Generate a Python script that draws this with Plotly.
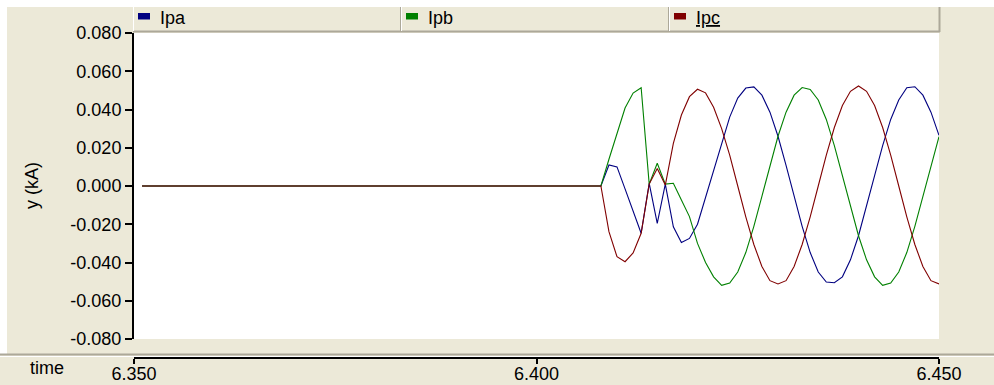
import plotly.graph_objects as go

# Phase currents (kA) sampled every 1 ms; flat at zero until the event at 6.408 s
time_s = [6.351,
          6.408, 6.409, 6.410, 6.411, 6.412, 6.413, 6.414, 6.415, 6.416, 6.417,
          6.418, 6.419, 6.420, 6.421, 6.422, 6.423, 6.424, 6.425, 6.426, 6.427,
          6.428, 6.429, 6.430, 6.431, 6.432, 6.433, 6.434, 6.435, 6.436, 6.437,
          6.438, 6.439, 6.440, 6.441, 6.442, 6.443, 6.444, 6.445, 6.446, 6.447,
          6.448, 6.449, 6.450]

ipa = [0.0,
       0.0, 0.011, 0.010, -0.0015, -0.013, -0.0247, 0.0014, -0.0195, 0.001, -0.0213,
       -0.0296, -0.0274, -0.020, -0.006, 0.009, 0.023, 0.036, 0.046, 0.0512, 0.0518,
       0.0475, 0.0386, 0.026, 0.0108, -0.0054, -0.0211, -0.0348, -0.045, -0.0502, -0.0506,
       -0.0475, -0.0386, -0.026, -0.0108, 0.0054, 0.0211, 0.0348, 0.045, 0.0514, 0.0519,
       0.0475, 0.0386, 0.0265]

ipb = [0.0,
       0.0, 0.014, 0.0277, 0.0408, 0.0486, 0.0514, 0.001, 0.0119, 0.001, 0.0014,
       -0.0073, -0.016, -0.030, -0.040, -0.0475, -0.0519, -0.0507, -0.045, -0.0348, -0.0211,
       -0.0054, 0.0108, 0.026, 0.0386, 0.0475, 0.0515, 0.0505, 0.045, 0.0348, 0.0211,
       0.0054, -0.0108, -0.026, -0.0386, -0.0475, -0.0519, -0.0507, -0.045, -0.0348, -0.0211,
       -0.0054, 0.0108, 0.0258]

ipc = [0.0,
       0.0, -0.0239, -0.037, -0.0396, -0.035, -0.0247, 0.001, 0.0092, 0.0005, 0.0223,
       0.0371, 0.0467, 0.0506, 0.0487, 0.0412, 0.0300, 0.0161, 0.0, -0.0161, -0.0306,
       -0.0421, -0.0495, -0.0512, -0.0495, -0.0421, -0.0306, -0.0161, 0.0, 0.0161, 0.0306,
       0.0421, 0.0495, 0.0523, 0.0495, 0.0421, 0.0306, 0.0161, 0.0, -0.0161, -0.0306,
       -0.0421, -0.0495, -0.0512]

series_names = ["Ipa", "Ipb", "Ipc"]
series_colors = ["#000080", "#008000", "#800000"]

y_tickvals = [0.08, 0.06, 0.04, 0.02, 0.0, -0.02, -0.04, -0.06, -0.08]
y_ticktext = ["0.080", "0.060", "0.040", "0.020", "0.000",
              "-0.020", "-0.040", "-0.060", "-0.080"]
x_tickvals = [6.35, 6.40, 6.45]
x_ticktext = ["6.350", "6.400", "6.450"]

W, H = 994, 385
L, R, T, B = 134, 939, 33, 358          # paper area in pixels
PLOT_BOTTOM = 339                        # bottom of the white plot area

BEIGE = "#ECE9D8"
GRAY = "#ACA899"
FONT = "Liberation Sans, Arial, sans-serif"


def px_x(p):
    return (p - L) / (R - L)


def px_y(p):
    return (B - p) / (B - T)


fig = go.Figure()
for vals, name, color in zip([ipa, ipb, ipc], series_names, series_colors):
    fig.add_trace(go.Scatter(x=time_s, y=vals, mode="lines", name=name,
                             line=dict(color=color, width=1.1),
                             showlegend=False))

shapes = []


def rect(x0, y0, x1, y1, fill):
    shapes.append(dict(type="rect", xref="paper", yref="paper",
                       x0=px_x(x0), x1=px_x(x1), y0=px_y(y0), y1=px_y(y1),
                       fillcolor=fill, line=dict(width=0), layer="below"))


def hline(y, x0, x1, color, width):
    shapes.append(dict(type="line", xref="paper", yref="paper",
                       x0=px_x(x0), x1=px_x(x1), y0=px_y(y), y1=px_y(y),
                       line=dict(color=color, width=width)))


def vline(x, y0, y1, color, width):
    shapes.append(dict(type="line", xref="paper", yref="paper",
                       x0=px_x(x), x1=px_x(x), y0=px_y(y0), y1=px_y(y1),
                       line=dict(color=color, width=width)))


# window frame strips
rect(0, 0, W, 7, "white")
rect(0, 7, 7, 354, "white")

# legend header bar
hline(31.5, 133, 940, GRAY, 2)
vline(939.5, 7, 32, GRAY, 2)
vline(133.5, 7, 31, "white", 1)
for xd in (400.5, 668.5):
    vline(xd, 7, 31, GRAY, 1)
    vline(xd + 1, 7, 31, "white", 1)

# bottom separator above the time axis
hline(354.5, 0, W, GRAY, 2)
hline(356.5, 0, W, "white", 1)

annotations = []
legend_x = [138, 406, 674]
for xs, name, color in zip(legend_x, series_names, series_colors):
    rect(xs, 13, xs + 12, 19.5, color)
    label = "<u>" + name + "</u>" if name == "Ipc" else name
    annotations.append(dict(text=label, xref="paper", yref="paper",
                            x=px_x(xs + 20), y=px_y(18), xanchor="left",
                            yanchor="middle", showarrow=False,
                            font=dict(family=FONT, size=18, color="black")))

annotations.append(dict(text="y (kA)", xref="paper", yref="paper",
                        x=px_x(32), y=px_y(186), textangle=-90,
                        xanchor="center", yanchor="middle", showarrow=False,
                        font=dict(family=FONT, size=18, color="black")))
annotations.append(dict(text="time", xref="paper", yref="paper",
                        x=px_x(47), y=px_y(368), xanchor="center",
                        yanchor="middle", showarrow=False,
                        font=dict(family=FONT, size=18, color="black")))

fig.update_layout(
    width=W, height=H,
    margin=dict(l=L, r=W - R, t=T, b=H - B, pad=0, autoexpand=False),
    paper_bgcolor=BEIGE,
    plot_bgcolor="white",
    font=dict(family=FONT, size=18, color="black"),
    showlegend=False,
    shapes=shapes,
    annotations=annotations,
    xaxis=dict(range=[6.35, 6.45], anchor="free", position=0, automargin=False,
               tickvals=x_tickvals, ticktext=x_ticktext,
               showline=True, linecolor="black", linewidth=2,
               ticks="outside", ticklen=5, tickwidth=1.5, tickcolor="black",
               ticklabelstandoff=-6,
               showgrid=False, zeroline=False,
               tickfont=dict(family=FONT, size=18, color="black")),
    yaxis=dict(range=[-0.08, 0.08], domain=[px_y(PLOT_BOTTOM), 1], automargin=False,
               tickvals=y_tickvals, ticktext=y_ticktext,
               showline=True, linecolor="black", linewidth=2,
               ticks="outside", ticklen=7, tickwidth=1.5, tickcolor="black",
               showgrid=False, zeroline=False,
               tickfont=dict(family=FONT, size=18, color="black")),
)

fig.write_html("out.html")
